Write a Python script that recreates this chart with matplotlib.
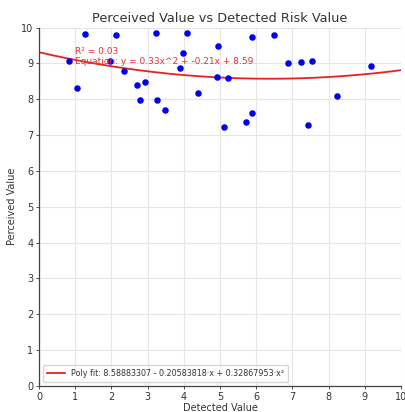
import numpy as np
import matplotlib
matplotlib.use("Agg")
import matplotlib.pyplot as plt

detected = [0.83, 1.05, 1.27, 1.95, 2.12, 2.34, 2.71, 2.94, 2.80, 3.23, 3.26,
            3.47, 4.09, 3.98, 3.89, 4.40, 4.94, 4.92, 5.22, 5.11, 5.73, 5.88,
            5.88, 6.48, 6.89, 7.23, 7.53, 7.43, 8.24, 9.17]
perceived = [9.07, 8.30, 9.82, 9.07, 9.78, 8.79, 8.40, 8.47, 7.97, 9.85, 7.98,
             7.70, 9.84, 9.28, 8.86, 8.18, 9.48, 8.63, 8.58, 7.22, 7.36, 7.62,
             9.73, 9.80, 9.02, 9.03, 9.06, 7.27, 8.08, 8.93]
curve_coefs = [0.0182, -0.232, 9.31]  # drawn curve (highest power first)

title = "Perceived Value vs Detected Risk Value"
r2_text = "R² = 0.03"
eq_text = "Equation: y = 0.33x^2 + -0.21x + 8.59"
legend_label = "Poly fit: 8.58883307 - 0.20583818·x + 0.32867953·x²"
ticks = list(range(0, 11))

fig = plt.figure(figsize=(4.06, 4.12), dpi=100)
ax = fig.add_axes([39/406, 1 - 386/412, 362/406, 358.5/412])

ax.grid(True, color="#e6e6e6", linewidth=0.8)
ax.set_axisbelow(True)

ax.scatter(detected, perceived, s=22, color="#0000ee", zorder=3, linewidths=0)
xs = np.linspace(0, 10, 200)
ax.plot(xs, np.polyval(curve_coefs, xs), color="#e82020", linewidth=1.3,
        label=legend_label, zorder=2)

ax.text(1.0, 9.34, r2_text, color="#ee3030", fontsize=6.5, va="center", ha="left")
ax.text(1.0, 9.06, eq_text, color="#ee3030", fontsize=6.5, va="center", ha="left")

ax.set_xlim(0, 10)
ax.set_ylim(0, 10)
ax.set_xticks(ticks)
ax.set_yticks(ticks)
ax.tick_params(labelsize=7, length=2.5, width=0.6, colors="#333333", pad=1.5)
for s in ["top", "right"]:
    ax.spines[s].set_visible(False)
for s in ["left", "bottom"]:
    ax.spines[s].set_color("#444444")
    ax.spines[s].set_linewidth(0.9)

ax.set_title(title, fontsize=9.3, color="#333333", pad=4)
ax.set_xlabel("Detected Value", fontsize=7, color="#333333", labelpad=1)
ax.set_ylabel("Perceived Value", fontsize=7, color="#333333", labelpad=3)

leg = ax.legend(loc="lower left", fontsize=5.8, frameon=True, borderpad=0.5,
                handlelength=2.2, fancybox=True)
leg.get_frame().set_edgecolor("#cccccc")
for t in leg.get_texts():
    t.set_color("#333333")

fig.savefig("out.png", dpi=100)
